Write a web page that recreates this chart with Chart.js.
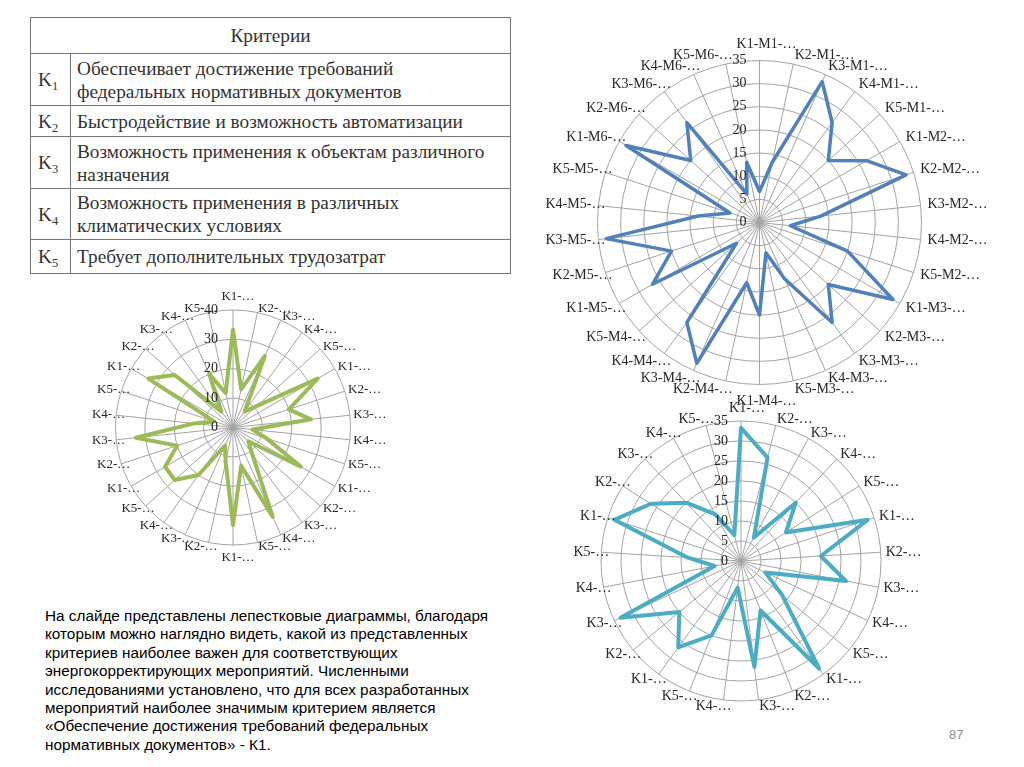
<!DOCTYPE html>
<html><head><meta charset="utf-8">
<script src="https://cdn.jsdelivr.net/npm/chart.js@4.4.1/dist/chart.umd.min.js"></script>
<style>
html,body{margin:0;padding:0;background:#fff;}
body{width:1024px;height:767px;position:relative;overflow:hidden;}
canvas.radar{position:absolute;left:0;top:0;}
#crit{position:absolute;left:30px;top:17px;width:481px;border-collapse:collapse;font-family:"Liberation Serif","Times New Roman",serif;font-size:19.3px;color:#333;}
#crit td{border:1px solid #777;padding:0 0 0 6px;line-height:23px;vertical-align:middle;white-space:nowrap;}
#crit td.k{width:32px;padding-left:7px;}
#crit td.hd{text-align:center;padding:0;}
#crit sub{font-size:12.5px;vertical-align:-4px;line-height:0;}
#note{position:absolute;left:45px;top:607px;font-family:"Liberation Sans",Arial,sans-serif;font-size:15.3px;line-height:18.4px;color:#000;white-space:nowrap;}
#pg{position:absolute;left:949px;top:727px;font-family:"Liberation Sans",Arial,sans-serif;font-size:13px;color:#8c8c8c;}
</style></head><body>
<table id="crit">
<tr style="height:36px"><td colspan="2" class="hd">Критерии</td></tr>
<tr style="height:52px"><td class="k">K<sub>1</sub></td><td>Обеспечивает достижение требований<br>федеральных нормативных документов</td></tr>
<tr style="height:31px"><td class="k">K<sub>2</sub></td><td>Быстродействие и возможность автоматизации</td></tr>
<tr style="height:52px"><td class="k">K<sub>3</sub></td><td>Возможность применения к объектам различного<br>назначения</td></tr>
<tr style="height:51px"><td class="k">K<sub>4</sub></td><td>Возможность применения в различных<br>климатических условиях</td></tr>
<tr style="height:34px"><td class="k">K<sub>5</sub></td><td>Требует дополнительных трудозатрат</td></tr>
</table>
<div id="note">На слайде представлены лепестковые диаграммы, благодаря<br>которым можно наглядно видеть, какой из представленных<br>критериев наиболее важен для соответствующих<br>энергокорректирующих мероприятий. Численными<br>исследованиями установлено, что для всех разработанных<br>мероприятий наиболее значимым критерием является<br>«Обеспечение достижения требований федеральных<br>нормативных документов» - К1.</div>
<div id="pg">87</div>
<canvas id="c2" class="radar" width="1024" height="767"></canvas>
<canvas id="c3" class="radar" width="1024" height="767"></canvas>
<canvas id="c1" class="radar" width="1024" height="767"></canvas>
<script>
// ---- Chart 1 (blue): 5 criteria x 6 measures ----
const labels1 = ["K1-M1-…","K2-M1-…","K3-M1-…","K4-M1-…","K5-M1-…",
  "K1-M2-…","K2-M2-…","K3-M2-…","K4-M2-…","K5-M2-…",
  "K1-M3-…","K2-M3-…","K3-M3-…","K4-M3-…","K5-M3-…",
  "K1-M4-…","K2-M4-…","K3-M4-…","K4-M4-…","K5-M4-…",
  "K1-M5-…","K2-M5-…","K3-M5-…","K4-M5-…","K5-M5-…",
  "K1-M6-…","K2-M6-…","K3-M6-…","K4-M6-…","K5-M6-…"];
const values1 = [6.7,13.3,33.3,26.7,20, 26.7,33.3,13.3,6.7,20, 33.3,20,26.7,13.3,6.7,
  20,13.3,33.3,26.7,6.7, 26.7,20,33.3,13.3,6.7, 33.3,20,26.7,6.7,13.3];
const max1 = 35, step1 = 5;

// ---- Chart 2 (green): 30 categories ----
const labels2 = ["K1-…","K2-…","K3-…","K4-…","K5-…","K1-…","K2-…","K3-…","K4-…","K5-…",
  "K1-…","K2-…","K3-…","K4-…","K5-…","K1-…","K2-…","K3-…","K4-…","K5-…",
  "K1-…","K2-…","K3-…","K4-…","K5-…","K1-…","K2-…","K3-…","K4-…","K5-…"];
const values2 = [33.3,13.3,26.7,6.7,11, 33.3,20,26.7,6.7,12, 26.7,7,11,33.3,13.3,
  33.3,12,6.7,20,26.7, 26.7,20,33.3,13.3,6.7, 33.3,26.7,6.7,20,12];
const max2 = 40, step2 = 10;

// ---- Chart 3 (cyan): 25 categories ----
const labels3 = ["K1-…","K2-…","K3-…","K4-…","K5-…","K1-…","K2-…","K3-…","K4-…","K5-…",
  "K1-…","K2-…","K3-…","K4-…","K5-…","K1-…","K2-…","K3-…","K4-…","K5-…",
  "K1-…","K2-…","K3-…","K4-…","K5-…"];
const values3 = [33.3,26.7,6.7,20,13.3, 33.3,20,26.7,6.7,13.3, 33.3,13.3,26.7,6.7,20,
  26.7,20,33.3,6.7,13.3, 33.3,26.7,20,13.3,6.7];
const max3 = 35, step3 = 5;

// value-axis labels, right-aligned just left of the vertical axis (spreadsheet style)
const tickLabels = {
  id: 'tickLabels',
  afterDatasetsDraw(chart, args, o) {
    const s = chart.scales.r, ctx = chart.ctx;
    ctx.save();
    ctx.font = o.font; ctx.fillStyle = o.color;
    ctx.textAlign = 'right'; ctx.textBaseline = 'middle';
    s.ticks.forEach(t => {
      const d = s.getDistanceFromCenterForValue(t.value);
      ctx.fillText(String(t.value), s.xCenter - o.gap, s.yCenter - d);
    });
    ctx.restore();
  }
};

// category labels placed around the outer ring, spreadsheet-like anchoring
const ringLabels = {
  id: 'ringLabels',
  afterDraw(chart, args, o) {
    const s = chart.scales.r, ctx = chart.ctx;
    ctx.save();
    ctx.font = o.font; ctx.fillStyle = o.color; ctx.textBaseline = 'middle';
    chart.data.labels.forEach((lab, i) => {
      const ang = s.getIndexAngle(i);
      const deg = Math.round(ang * 1800 / Math.PI) / 10 % 360;
      const p = s.getPointPosition(i, s.drawingArea);
      const sn = Math.sin(ang), cs = Math.cos(ang);
      let x, align;
      if (deg === 0 || deg === 180) { align = 'center'; x = p.x + o.c; }
      else if (deg < 180) { align = 'left'; x = p.x + o.a * sn; }
      else { align = 'right'; x = p.x + o.b; }
      let y = p.y - o.k * cs;
      if (deg === 0) y -= o.h / 2;
      if (deg === 180) y += o.h / 2;
      ctx.textAlign = align;
      ctx.fillText(lab, x, y);
    });
    ctx.restore();
  }
};

function radar(id, labels, values, color, width, max, step, geo, lab, gap) {
  new Chart(document.getElementById(id), {
    type: 'radar',
    data: { labels: labels, datasets: [{ data: values, borderColor: color, borderWidth: width,
      fill: false, pointRadius: 0, pointHoverRadius: 0, borderJoinStyle: 'round', tension: 0 }] },
    plugins: [tickLabels, ringLabels],
    options: {
      responsive: false, animation: false, events: [],
      layout: { padding: 0 },
      plugins: { legend: { display: false }, tooltip: { enabled: false },
        tickLabels: { font: '14px "Liberation Serif"', color: '#262626', gap: gap },
        ringLabels: Object.assign({ color: '#262626' }, lab) },
      scales: { r: {
        min: 0, max: max,
        ticks: { stepSize: step, display: false },
        grid: { circular: true, color: '#a3a3a3', lineWidth: 1 },
        angleLines: { color: '#a3a3a3', lineWidth: 1 },
        pointLabels: { display: false },
        afterFit: function(s) { s.xCenter = geo.cx; s.yCenter = geo.cy; s.drawingArea = geo.r; }
      } }
    }
  });
}

radar('c2', labels2, values2, '#9bbb59', 4, max2, step2, {cx: 233, cy: 427.5, r: 117.5},
  {font: '13px "Liberation Serif"', a: 3.5, b: 9, c: 5, k: 4, h: 18}, 15);
radar('c3', labels3, values3, '#4bacc6', 4, max3, step3, {cx: 741, cy: 561, r: 140},
  {font: '14px "Liberation Serif"', a: 5, b: 8, c: 6, k: 6, h: 14}, 13);
radar('c1', labels1, values1, '#4f81bd', 3.5, max1, step1, {cx: 759.5, cy: 222.5, r: 162},
  {font: '14px "Liberation Serif"', a: 7, b: 7, c: 7, k: 9, h: 15}, 13);
</script>
</body></html>
